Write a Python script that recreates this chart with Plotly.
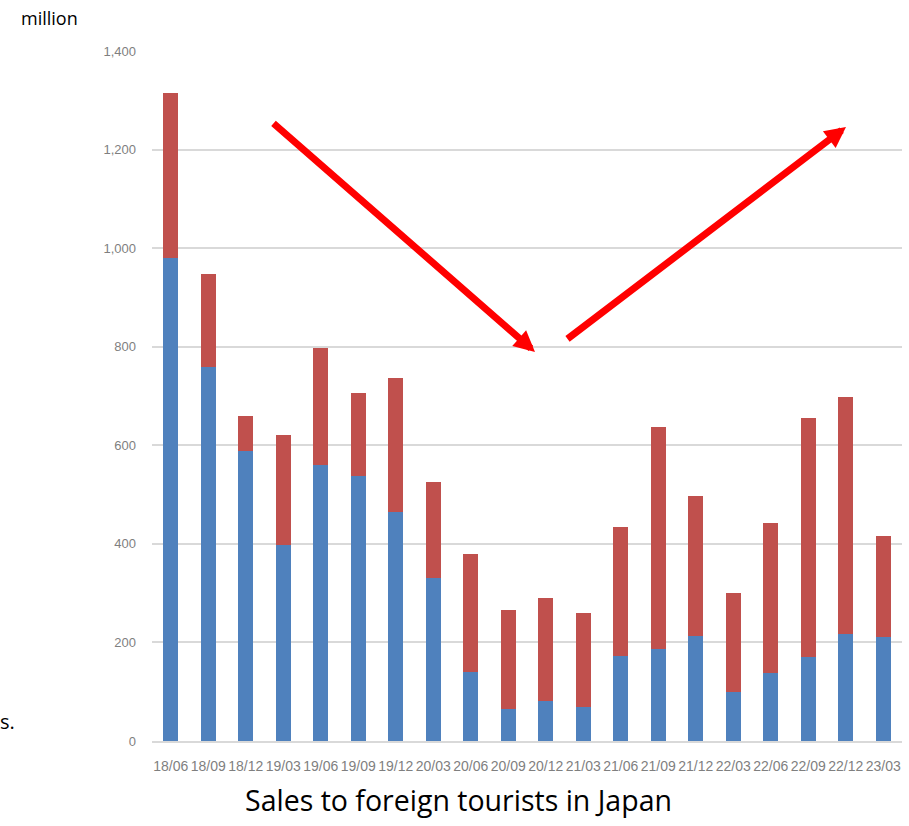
import plotly.graph_objects as go

categories = ["18/06", "18/09", "18/12", "19/03", "19/06", "19/09", "19/12", "20/03", "20/06", "20/09",
              "20/12", "21/03", "21/06", "21/09", "21/12", "22/03", "22/06", "22/09", "22/12", "23/03"]
totals = [1314, 947, 659, 620, 797, 707, 736, 525, 379, 266,
          290, 260, 435, 638, 498, 300, 442, 656, 698, 416]
blue_vals = [979, 758, 588, 398, 559, 538, 464, 330, 140, 64,
             82, 69, 172, 187, 214, 100, 137, 171, 218, 212]
red_vals = [t - b for t, b in zip(totals, blue_vals)]
y_ticks = [0, 200, 400, 600, 800, 1000, 1200, 1400]

BLUE = "#4F81BD"
RED = "#C0504D"
GRID = "#D9D9D9"
TICK = "#7F7F7F"

fig = go.Figure()
fig.add_trace(go.Bar(x=categories, y=blue_vals, marker=dict(color=BLUE, line=dict(width=0)), name="a"))
fig.add_trace(go.Bar(x=categories, y=red_vals, marker=dict(color=RED, line=dict(width=0)), name="b"))

L, R, T, B = 152, 7, 51, 85
W, H = 909, 826
PW, PH = W - L - R, H - T - B

def px(xp):
    return (xp - L) / PW

def py(yp):
    return (H - B - yp) / PH

fig.update_layout(
    width=W, height=H,
    margin=dict(l=L, r=R, t=T, b=B),
    barmode="stack",
    bargap=0.6,
    showlegend=False,
    plot_bgcolor="white",
    paper_bgcolor="white",
    font=dict(family="Liberation Sans, Arial", color=TICK),
    xaxis=dict(
        type="category",
        showgrid=False,
        showline=True, linecolor=GRID, linewidth=1.5,
        ticks="", tickfont=dict(size=14, color=TICK),
        ticklabelstandoff=11,
    ),
    yaxis=dict(
        range=[0, 1400],
        tickvals=y_ticks,
        tickformat=",",
        showgrid=True, gridcolor=GRID, gridwidth=1.5,
        zeroline=False, showline=False,
        ticks="", tickfont=dict(size=13, color=TICK),
        ticklabelstandoff=15,
    ),
)

annotations = [
    dict(text="Sales to foreign tourists in Japan", xref="paper", yref="paper",
         x=px(458), y=py(800), xanchor="center", yanchor="middle", showarrow=False,
         font=dict(family="Open Sans", size=28.5, color="#000000")),
    dict(text="million", xref="paper", yref="paper",
         x=px(19), y=py(18), xanchor="left", yanchor="middle", showarrow=False,
         font=dict(family="Open Sans", size=18, color="#000000")),
    dict(text="s.", xref="paper", yref="paper",
         x=px(-2), y=py(721), xanchor="left", yanchor="middle", showarrow=False,
         font=dict(family="Open Sans", size=20, color="#000000")),
    dict(text="", xref="paper", yref="paper", x=px(535), y=py(352),
         ax=272 - 535, ay=122 - 352, axref="pixel", ayref="pixel",
         showarrow=True, arrowhead=2, arrowsize=0.6, arrowwidth=7, arrowcolor="#FF0000"),
    dict(text="", xref="paper", yref="paper", x=px(846), y=py(127),
         ax=566 - 846, ay=340 - 127, axref="pixel", ayref="pixel",
         showarrow=True, arrowhead=2, arrowsize=0.6, arrowwidth=7, arrowcolor="#FF0000"),
]
fig.update_layout(annotations=annotations)

fig.write_html("out.html")
